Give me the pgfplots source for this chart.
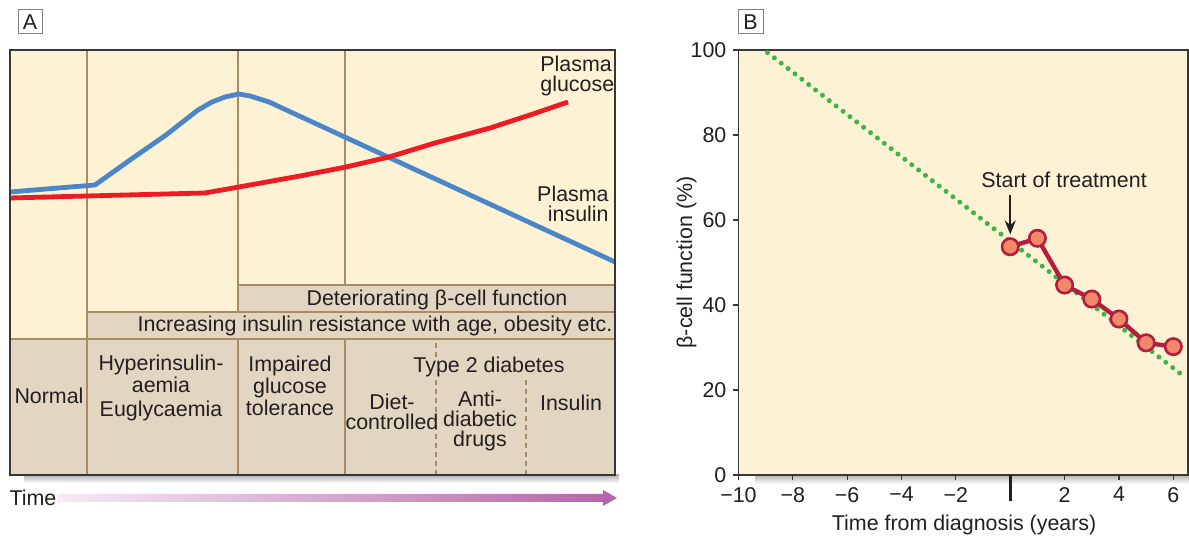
\documentclass[border=0pt]{standalone}
\usepackage{fontspec}
\setmainfont{Liberation Sans}
\usepackage{pgfplots}
\pgfplotsset{compat=1.18}
\usetikzlibrary{arrows.meta}

\definecolor{cream}{RGB}{253,242,211}
\definecolor{tan}{RGB}{226,214,194}
\definecolor{edge}{RGB}{170,140,100}
\definecolor{insblue}{RGB}{74,134,200}
\definecolor{glured}{RGB}{237,28,36}
\definecolor{crimson}{RGB}{178,30,60}
\definecolor{salmon}{RGB}{241,136,106}
\definecolor{dotgreen}{RGB}{57,181,74}
\definecolor{framegray}{RGB}{55,55,55}
\definecolor{textc}{RGB}{35,31,32}
\definecolor{arrowstart}{RGB}{246,234,245}
\definecolor{arrowend}{RGB}{181,98,168}

\newcommand\fs{\fontsize{10.7pt}{9.8pt}\selectfont}

\begin{document}
\begin{tikzpicture}[font=\fs, text=textc]
\useasboundingbox (0,0) rectangle (594.5pt,269.5pt);

% panel A: a pixel grid over the whole figure, y counted upwards
\begin{axis}[at={(0pt,0pt)}, anchor=south west, scale only axis,
  width=594.5pt, height=269.5pt,
  xmin=0, xmax=1189, ymin=0, ymax=539,
  hide axis, clip=false]
% soft shadows under both frames
\shade[top color=black!30, bottom color=white] (axis cs:24,64) rectangle (axis cs:619,56);
\shade[top color=black!30, bottom color=white] (axis cs:755,64) rectangle (axis cs:1189,55);

\addplot[fill=cream, draw=none] coordinates {(10,64) (615,64) (615,489) (10,489)} -- cycle;
\addplot[fill=tan, draw=none] coordinates {(10,64) (615,64) (615,200) (10,200)} -- cycle;
\addplot[fill=tan, draw=edge, line width=0.6pt] coordinates {(87,200) (615,200) (615,227) (87,227)} -- cycle;
\addplot[fill=tan, draw=edge, line width=0.6pt] coordinates {(238,227) (615,227) (615,254) (238,254)} -- cycle;
\addplot[edge, line width=0.6pt] coordinates {(10,200) (87,200)};

% stage dividers
\addplot[edge, line width=0.6pt] coordinates {(87,64) (87,489)};
\addplot[edge, line width=0.6pt] coordinates {(238,254) (238,489)};
\addplot[edge, line width=0.6pt] coordinates {(238,64) (238,200)};
\addplot[edge, line width=0.6pt] coordinates {(345,254) (345,489)};
\addplot[edge, line width=0.6pt] coordinates {(345,64) (345,200)};
\addplot[edge, line width=0.6pt, dash pattern=on 2.5pt off 2pt] coordinates {(436,64) (436,162)};
\addplot[edge, line width=0.6pt, dash pattern=on 2.5pt off 2pt] coordinates {(436,182) (436,200)};
\addplot[edge, line width=0.6pt, dash pattern=on 2.5pt off 2pt] coordinates {(526,64) (526,162)};

% plasma insulin and glucose
\addplot[insblue, line width=2.4pt, line join=round] coordinates {
  (10,347) (95,354) (130,379) (166,404) (198,429) (212,437) (225,442)
  (239,445) (250,443) (269,437) (615,277)};
\addplot[glured, line width=2.4pt, line join=round] coordinates {
  (10,341) (87,343) (205,346) (239,352) (300,363) (346,372) (389,382)
  (435,396) (490,411) (530,424) (568,437)};

\addplot[draw=framegray, line width=0.9pt] coordinates {(10,64) (615,64) (615,489) (10,489)} -- cycle;

\node[align=left, anchor=west, inner sep=0pt] at (axis cs:540,463) {Plasma\\glucose};
\node[align=right, anchor=east, inner sep=0pt] at (axis cs:609,335) {Plasma\\insulin};
\node at (axis cs:437,239) {Deteriorating β-cell function};
\node at (axis cs:375,213) {Increasing insulin resistance with age, obesity etc.};
\node at (axis cs:49,143) {Normal};
\node[align=center] at (axis cs:161,151) {Hyperinsulin-\\aemia\\[2pt]Euglycaemia};
\node[align=center] at (axis cs:290,153) {Impaired\\glucose\\tolerance};
\node at (axis cs:489,172) {Type 2 diabetes};
\node[align=center] at (axis cs:392,127) {Diet-\\controlled};
\node[align=center] at (axis cs:480,118) {Anti-\\diabetic\\drugs};
\node at (axis cs:571,136) {Insulin};

% time arrow
\node at (axis cs:33,41) {Time};
\shade[left color=arrowstart, right color=arrowend]
  (axis cs:57,37) -- (axis cs:603,37) -- (axis cs:603,33) -- (axis cs:617,41)
  -- (axis cs:603,49) -- (axis cs:603,45) -- (axis cs:57,45) -- cycle;

% panel letters
\node[draw=gray, line width=0.5pt, minimum width=12pt, minimum height=12pt, inner sep=0pt] at (axis cs:30,517) {A};
\node[draw=gray, line width=0.5pt, minimum width=12.5pt, minimum height=12pt, inner sep=0pt] at (axis cs:750.5,517) {B};
\end{axis}

% panel B
\begin{axis}[at={(369.2pt,32pt)}, anchor=south west, scale only axis,
  width=224.8pt, height=212.5pt,
  xmin=-10, xmax=6.54, ymin=0, ymax=100,
  axis background/.style={fill=cream},
  axis line style={framegray, line width=0.8pt},
  tick align=outside, xtick pos=bottom, ytick pos=left,
  major tick length=2.5pt, tick style={framegray, line width=0.6pt},
  xtick={-10,-8,-6,-4,-2,2,4,6},
  xticklabels={−10,−8,−6,−4,−2,2,4,6},
  ytick={0,20,40,60,80,100},
  yticklabels={0,20,40,60,80,100},
  extra x ticks={0}, extra x tick labels={},
  extra x tick style={major tick length=13pt, tick style={textc, line width=1.4pt}},
  ticklabel style={font=\fs, text=textc},
  xlabel={Time from diagnosis (years)},
  ylabel={β-cell function (\%)},
  label style={font=\fs, text=textc},
  xlabel style={at={(axis description cs:0.502,-0.118)}, anchor=center},
  ylabel style={at={(axis description cs:-0.115,0.5)}, anchor=center},
  clip=false]
\addplot[dotgreen, line width=2.5pt, line cap=round, dash pattern=on 0pt off 4.35pt]
  coordinates {(-8.93,99.4) (6.33,23.5)};
\addplot[crimson, line width=2.2pt, mark=*, mark size=4.1pt,
  mark options={fill=salmon, draw=crimson, line width=1.3pt}]
  coordinates {(0,53.7) (1,55.7) (2,44.7) (3,41.4) (4,36.7) (5,31.1) (6,30.2)};
\node at (axis cs:1.98,69.4) {Start of treatment};
\draw[-{Stealth[length=7pt,width=5.5pt]}, line width=1pt, textc] (axis cs:0,65.8) -- (axis cs:0,56.6);
\end{axis}
\end{tikzpicture}
\end{document}
